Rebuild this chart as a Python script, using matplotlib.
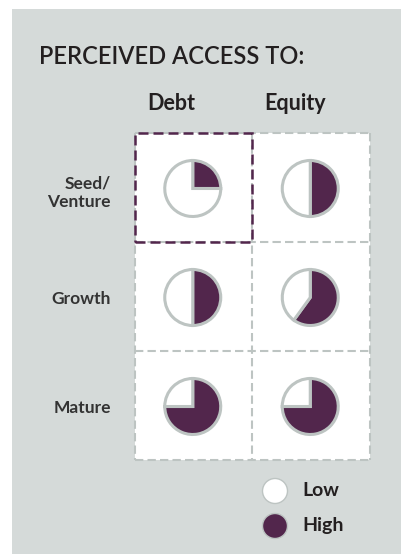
import matplotlib
matplotlib.use('Agg')
import matplotlib.pyplot as plt
import matplotlib.patches as mpatches

# data: share of "High" perceived access per stage / instrument
stages = ['Seed/\nVenture', 'Growth', 'Mature']
instruments = ['Debt', 'Equity']
high_share = [
    [0.25, 0.50],
    [0.50, 0.60],
    [0.75, 0.75],
]
legend_labels = ['Low', 'High']

COLOR_BG = '#D5DAD9'
COLOR_PURPLE = '#52264C'
COLOR_LINE = '#BDC4C2'
COLOR_TEXT = '#231F20'

W, H = 402, 554
fig = plt.figure(figsize=(W / 100, H / 100), dpi=100)
fig.patch.set_facecolor('white')
ax = fig.add_axes([0, 0, 1, 1])


def Y(py):
    # pixel row from the top -> data y
    return H - py


ax.add_patch(mpatches.Rectangle((12, 0), W - 12, Y(9), facecolor=COLOR_BG,
                                edgecolor='none', zorder=0))

ax.text(39, Y(56), 'PERCEIVED ACCESS TO:', fontsize=17, family='Lato',
        fontweight='semibold', color=COLOR_TEXT, ha='left', va='center')

# grid geometry (pixels)
x0, x1 = 135, 370
y0, y1 = 133, 460
cw = (x1 - x0) / len(instruments)
rh = (y1 - y0) / len(stages)

ax.add_patch(mpatches.Rectangle((x0, Y(y1)), x1 - x0, y1 - y0,
                                facecolor='white', edgecolor='none', zorder=1))

dash = (0, (4, 2))
for i in range(len(instruments) + 1):
    xx = x0 + i * cw
    ax.plot([xx, xx], [Y(y0), Y(y1)], color=COLOR_LINE, lw=1.5,
            linestyle=dash, zorder=2)
for j in range(len(stages) + 1):
    yy = y0 + j * rh
    ax.plot([x0, x1], [Y(yy), Y(yy)], color=COLOR_LINE, lw=1.5,
            linestyle=dash, zorder=2)

# highlighted cell: Debt / Seed-Venture
ax.add_patch(mpatches.Rectangle((x0, Y(y0 + rh)), cw, rh, facecolor='none',
                                edgecolor=COLOR_PURPLE, lw=1.8,
                                linestyle=dash, zorder=3))

for i, name in enumerate(instruments):
    ax.text(x0 + i * cw + 12, Y(103), name, fontsize=15.5, family='Lato',
            fontweight='bold', color=COLOR_TEXT, ha='left', va='center')

label_y = [193, 299, 408]
for j, name in enumerate(stages):
    ax.text(111, Y(label_y[j]), name, fontsize=12.5, family='Lato',
            fontweight='bold', color='#333333', ha='right', va='center',
            linespacing=1.2)

for j in range(len(stages)):
    for i in range(len(instruments)):
        v = high_share[j][i]
        cx = x0 + i * cw + cw / 2 - 1
        cy = y0 + j * rh + rh / 2 + 1
        ax.pie([v, 1 - v], colors=[COLOR_PURPLE, 'white'], startangle=90,
               counterclock=False, center=(cx, Y(cy)), radius=28,
               wedgeprops=dict(edgecolor=COLOR_LINE, linewidth=2.2,
                               zorder=4))

# legend
leg_y = [491, 526]
leg_fc = ['white', COLOR_PURPLE]
for k, lab in enumerate(legend_labels):
    ax.add_patch(mpatches.Circle((275, Y(leg_y[k])), 12.5, facecolor=leg_fc[k],
                                 edgecolor=COLOR_LINE, lw=1, zorder=4))
    ax.text(302, Y(leg_y[k]), lab, fontsize=14, family='Lato',
            fontweight='bold', color=COLOR_TEXT, ha='left', va='center')

ax.set_xlim(0, W)
ax.set_ylim(0, H)
ax.set_aspect('auto')
ax.axis('off')

fig.savefig('out.png', dpi=100, facecolor='white')
